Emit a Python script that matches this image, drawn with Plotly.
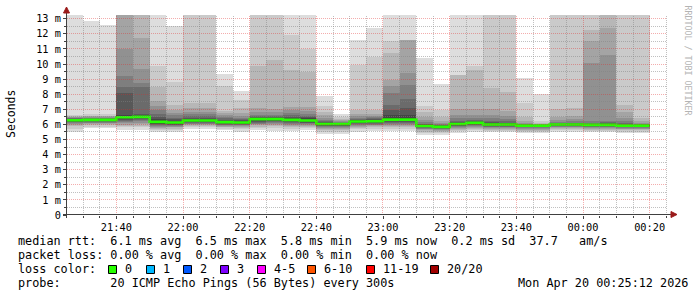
import math
import numpy as np
import pandas as pd
import plotly.graph_objects as go

# ---------------- data ----------------
# 35 five-minute bars, each bar ends at these times
bar_end = pd.date_range("2026-04-19 21:30", periods=35, freq="5min")

# sorted ping round-trip times (ms) per bar, p01 = fastest ... p20 = slowest
p20 = [14, 12.87, 12.6, 14, 14, 14, 12.53, 14, 14, 9.35, 8.22, 14, 14, 14, 14, 7.88, 6.72, 11.6, 12.42, 14, 14, 10.43, 8.69, 14, 14, 14, 14, 9.06, 8.02, 14, 14, 14, 14, 14, 14]
p19 = [6.62, 6.66, 6.66, 14, 14, 9.9, 8.84, 14, 14, 8.55, 7.65, 14, 14, 11.94, 11.0, 7.2, 6.5, 9.95, 10.5, 11.5, 11.62, 7.2, 6.96, 9.3, 9.84, 14, 14, 7.4, 6.25, 14, 14, 14, 14, 14, 14]
p18 = [6.56, 6.58, 6.58, 14, 14, 8.5, 7.29, 7.45, 7.45, 6.9, 7.06, 9.84, 10.28, 9.6, 9.5, 6.85, 6.38, 6.96, 6.96, 10.72, 11.6, 6.8, 6.5, 9.27, 9.6, 8.4, 8.18, 6.52, 6.1, 7.0, 7.1, 12.27, 14, 7.3, 6.4]
p17 = [6.52, 6.53, 6.53, 14, 11.75, 7.55, 6.96, 7.07, 7.07, 6.75, 6.75, 7.1, 7.0, 7.18, 7.15, 6.6, 6.28, 6.7, 6.72, 8.95, 11.58, 6.5, 6.25, 7.0, 7.0, 7.0, 6.9, 6.25, 6.04, 6.5, 6.55, 11.5, 12.38, 6.8, 6.2]
p16 = [6.48, 6.49, 6.49, 11.0, 9.7, 7.2, 6.75, 6.85, 6.85, 6.6, 6.55, 6.8, 6.8, 6.95, 6.9, 6.45, 6.2, 6.55, 6.58, 8.55, 9.4, 6.3, 6.1, 6.6, 6.65, 6.6, 6.55, 6.12, 6.0, 6.3, 6.33, 10.06, 10.6, 6.45, 6.1]
p15 = [6.44, 6.45, 6.45, 9.2, 8.77, 6.95, 6.6, 6.7, 6.7, 6.5, 6.42, 6.65, 6.65, 6.75, 6.72, 6.32, 6.15, 6.45, 6.48, 8.07, 8.6, 6.15, 6.02, 6.4, 6.45, 6.4, 6.38, 6.05, 5.98, 6.18, 6.2, 6.2, 6.22, 6.2, 6.04]
p14 = [6.41, 6.42, 6.42, 8.45, 8.5, 6.66, 6.45, 6.58, 6.58, 6.4, 6.35, 6.55, 6.55, 6.6, 6.58, 6.22, 6.11, 6.38, 6.4, 7.3, 7.7, 6.05, 5.97, 6.25, 6.32, 6.25, 6.22, 6.0, 5.96, 6.1, 6.12, 6.12, 6.13, 6.08, 6.0]
p13 = [6.38, 6.39, 6.39, 8.1, 6.68, 6.5, 6.35, 6.45, 6.45, 6.3, 6.28, 6.47, 6.48, 6.5, 6.48, 6.15, 6.08, 6.32, 6.33, 6.96, 7.1, 6.0, 5.93, 6.15, 6.22, 6.13, 6.12, 5.97, 5.95, 6.06, 6.07, 6.06, 6.07, 6.02, 5.98]
p12 = [6.34, 6.36, 6.36, 6.62, 6.6, 6.35, 6.25, 6.37, 6.37, 6.24, 6.22, 6.42, 6.42, 6.42, 6.4, 6.1, 6.06, 6.27, 6.28, 6.6, 6.65, 5.96, 5.9, 6.1, 6.17, 6.07, 6.07, 5.95, 5.94, 6.04, 6.04, 6.02, 6.03, 5.98, 5.96]
p11 = [6.31, 6.33, 6.33, 6.52, 6.54, 6.22, 6.18, 6.3, 6.3, 6.19, 6.17, 6.38, 6.38, 6.35, 6.32, 6.06, 6.04, 6.22, 6.24, 6.4, 6.4, 5.93, 5.87, 6.06, 6.13, 6.03, 6.03, 5.93, 5.93, 6.02, 6.02, 6.0, 6.0, 5.95, 5.94]
p10 = [6.26, 6.28, 6.28, 6.44, 6.46, 6.12, 6.08, 6.22, 6.22, 6.11, 6.09, 6.32, 6.32, 6.26, 6.22, 6.0, 6.0, 6.16, 6.18, 6.26, 6.26, 5.87, 5.81, 6.0, 6.07, 5.97, 5.97, 5.9, 5.9, 5.98, 5.98, 5.95, 5.95, 5.89, 5.89]
p09 = [6.22, 6.24, 6.24, 6.38, 6.4, 6.06, 6.03, 6.18, 6.18, 6.07, 6.05, 6.25, 6.26, 6.2, 6.17, 5.96, 5.96, 6.12, 6.13, 6.2, 6.2, 5.84, 5.78, 5.96, 6.03, 5.93, 5.93, 5.87, 5.87, 5.95, 5.95, 5.92, 5.92, 5.86, 5.86]
p08 = [6.18, 6.2, 6.2, 6.32, 6.33, 6.01, 5.98, 6.14, 6.14, 6.03, 6.01, 6.18, 6.2, 6.14, 6.12, 5.92, 5.92, 6.07, 6.08, 6.14, 6.14, 5.8, 5.75, 5.92, 5.99, 5.89, 5.89, 5.84, 5.84, 5.92, 5.92, 5.88, 5.88, 5.83, 5.83]
p07 = [6.14, 6.16, 6.16, 6.26, 6.27, 5.96, 5.94, 6.1, 6.1, 5.99, 5.97, 6.12, 6.14, 6.08, 6.07, 5.88, 5.88, 6.02, 6.03, 6.08, 6.08, 5.76, 5.71, 5.88, 5.95, 5.85, 5.85, 5.8, 5.8, 5.88, 5.88, 5.85, 5.85, 5.8, 5.8]
p06 = [6.1, 6.12, 6.12, 6.17, 6.2, 5.91, 5.9, 6.06, 6.06, 5.95, 5.93, 6.05, 6.08, 6.02, 6.02, 5.83, 5.84, 5.97, 5.98, 6.02, 6.02, 5.72, 5.67, 5.83, 5.9, 5.81, 5.81, 5.76, 5.76, 5.84, 5.84, 5.81, 5.81, 5.76, 5.76]
p05 = [6.05, 6.07, 6.07, 6.07, 6.1, 5.85, 5.85, 6.02, 6.02, 5.9, 5.88, 6.0, 6.02, 5.96, 5.97, 5.78, 5.78, 5.92, 5.93, 5.96, 5.96, 5.67, 5.62, 5.78, 5.85, 5.76, 5.76, 5.71, 5.71, 5.8, 5.8, 5.77, 5.77, 5.72, 5.72]
p04 = [5.98, 6.01, 6.01, 5.98, 6.0, 5.78, 5.8, 5.97, 5.97, 5.85, 5.83, 5.93, 5.95, 5.9, 5.92, 5.72, 5.72, 5.86, 5.87, 5.9, 5.9, 5.6, 5.56, 5.72, 5.79, 5.71, 5.71, 5.65, 5.65, 5.75, 5.75, 5.72, 5.72, 5.67, 5.67]
p03 = [5.88, 5.93, 5.94, 5.9, 5.9, 5.7, 5.72, 5.9, 5.9, 5.8, 5.77, 5.85, 5.87, 5.82, 5.85, 5.62, 5.62, 5.78, 5.8, 5.82, 5.82, 5.52, 5.5, 5.65, 5.72, 5.65, 5.65, 5.58, 5.58, 5.68, 5.68, 5.66, 5.66, 5.6, 5.6]
p02 = [5.7, 5.85, 5.86, 5.8, 5.8, 5.6, 5.65, 5.8, 5.82, 5.72, 5.68, 5.75, 5.75, 5.72, 5.77, 5.5, 5.5, 5.68, 5.7, 5.72, 5.72, 5.42, 5.42, 5.55, 5.62, 5.57, 5.57, 5.5, 5.5, 5.6, 5.6, 5.58, 5.58, 5.52, 5.52]
p01 = [5.48, 5.75, 5.78, 5.62, 5.6, 5.48, 5.53, 5.7, 5.72, 5.62, 5.5, 5.6, 5.58, 5.55, 5.62, 5.35, 5.35, 5.52, 5.55, 5.55, 5.55, 5.3, 5.32, 5.45, 5.5, 5.47, 5.47, 5.4, 5.4, 5.5, 5.5, 5.48, 5.48, 5.42, 5.42]

median = [6.28, 6.30, 6.30, 6.48, 6.50, 6.17, 6.13, 6.26, 6.26, 6.15, 6.13, 6.35, 6.35, 6.30, 6.26, 6.03, 6.03, 6.19, 6.21, 6.32, 6.32, 5.90, 5.84, 6.03, 6.10, 6.00, 6.00, 5.92, 5.92, 6.00, 6.00, 5.97, 5.97, 5.92, 5.92]

y_tickvals = [0, 1, 2, 3, 4, 5, 6, 7, 8, 9, 10, 11, 12, 13]
y_ticktext = ["0", "1 m", "2 m", "3 m", "4 m", "5 m", "6 m", "7 m", "8 m", "9 m", "10 m", "11 m", "12 m", "13 m"]

line_rtt = "median rtt:  6.1 ms avg  6.5 ms max  5.8 ms min  5.9 ms now  0.2 ms sd  37.7   am/s"
line_loss = "packet loss: 0.00 % avg  0.00 % max  0.00 % min  0.00 % now"
loss_labels = ["0", "1", "2", "3", "4-5", "6-10", "11-19", "20/20"]
loss_colors = ["#26ff00", "#00b8ff", "#0059ff", "#7e00ff", "#ff00ff", "#ff5500", "#ff0000", "#a10000"]
line_probe = "probe:       20 ICMP Echo Pings (56 Bytes) every 300s"
date_text = "Mon Apr 20 00:25:12 2026"

# ---------------- styling ----------------
W, H = 697, 297
L, R, T, B = 67, 30, 15, 82
PW, PH = W - L - R, H - T - B
MONO = "DejaVu Sans Mono"
smoke_gray = ["#dddddd", "#cacaca", "#b7b7b7", "#a4a4a4", "#919191",
              "#7e7e7e", "#6b6b6b", "#585858", "#454545", "#323232"]
x_start = pd.Timestamp("2026-04-19 21:25:12")
x_stop = pd.Timestamp("2026-04-20 00:25:12")
span_s = (x_stop - x_start).total_seconds()
y_top = 13.25


def fx(px):
    return (px - L) / PW


def fy(py):
    return (H - B - py) / PH


def snap(p):
    return math.floor(p) + 0.5


def nb(s):
    return s.replace(" ", "\u00a0")


pings = [p01, p02, p03, p04, p05, p06, p07, p08, p09, p10,
         p11, p12, p13, p14, p15, p16, p17, p18, p19, p20]

fig = go.Figure()
centers = bar_end - pd.Timedelta(seconds=150)
for j in range(10):
    lo = np.array(pings[j], dtype=float)
    hi = np.array(pings[19 - j], dtype=float)
    fig.add_trace(go.Bar(x=centers, y=hi - lo, base=lo, width=300000,
                         marker=dict(color=smoke_gray[j], line=dict(width=0)),
                         opacity=1, hoverinfo="skip", showlegend=False))

step_x = list(bar_end - pd.Timedelta(minutes=5)) + [bar_end[-1]]
step_y = list(median) + [median[-1]]
fig.add_trace(go.Scatter(x=step_x, y=step_y, mode="lines",
                         line=dict(color="#26ff00", width=2.6, shape="hv"),
                         hoverinfo="skip", showlegend=False))

shapes = []
minor_c = "rgba(130,130,130,0.5)"
major_c = "rgba(225,40,40,0.38)"
dash = "1px,1px"
# horizontal grid (snapped to pixel centres)
for k in range(1, 27):
    v = k * 0.5
    if v > y_top:
        break
    py = snap(H - B - v * PH / y_top)
    col = major_c if k % 2 == 0 else minor_c
    shapes.append(dict(type="line", xref="paper", yref="paper", x0=0, x1=1, y0=fy(py), y1=fy(py),
                       line=dict(color=col, width=1, dash=dash), layer="above"))
# vertical grid
t = pd.Timestamp("2026-04-19 21:30")
while t <= x_stop:
    major = (t.minute % 20 == 0)
    px = snap(L + (t - x_start).total_seconds() / span_s * PW)
    shapes.append(dict(type="line", xref="paper", yref="paper", x0=fx(px), x1=fx(px), y0=0, y1=1,
                       line=dict(color=major_c if major else minor_c, width=1, dash=dash),
                       layer="above"))
    t += pd.Timedelta(minutes=5)

axis_c = "#404040"
arrow_c = "#9a1a1a"
shapes.append(dict(type="line", xref="paper", yref="paper", x0=fx(63), x1=fx(672), y0=fy(214.5), y1=fy(214.5),
                   line=dict(color=axis_c, width=1), layer="above"))
shapes.append(dict(type="line", xref="paper", yref="paper", x0=fx(66.5), x1=fx(66.5), y0=fy(218), y1=fy(10),
                   line=dict(color=axis_c, width=1), layer="above"))
shapes.append(dict(type="path", xref="paper", yref="paper",
                   path=f"M {fx(63.5)},{fy(13)} L {fx(69.5)},{fy(13)} L {fx(66.5)},{fy(7)} Z",
                   fillcolor=arrow_c, line=dict(color=arrow_c, width=1), layer="above"))
shapes.append(dict(type="path", xref="paper", yref="paper",
                   path=f"M {fx(671)},{fy(211.5)} L {fx(671)},{fy(217.5)} L {fx(677)},{fy(214.5)} Z",
                   fillcolor=arrow_c, line=dict(color=arrow_c, width=1), layer="above"))

annotations = []


def txt(s, x, y, size=11.8, anchor="left", color="black", angle=0):
    annotations.append(dict(text=nb(s), x=fx(x), y=fy(y), xref="paper", yref="paper",
                            xanchor=anchor, yanchor="middle", showarrow=False,
                            textangle=angle,
                            font=dict(family=MONO, size=size, color=color)))


txt(line_rtt, 16, 241)
txt(line_loss, 16, 255)
txt("loss color:", 16, 269)
sq_left = [108, 146, 183, 220, 257, 307, 366, 430]
for lab, col, sx in zip(loss_labels, loss_colors, sq_left):
    shapes.append(dict(type="rect", xref="paper", yref="paper",
                       x0=fx(sx + 0.5), x1=fx(sx + 8.5), y0=fy(273.5), y1=fy(265.5),
                       fillcolor=col, line=dict(color="black", width=1), layer="above"))
    txt(lab, sx + 14.5, 269)
txt(line_probe, 16, 283)
txt(date_text, 689.5, 283, anchor="right")
txt("Seconds", 11, 114, size=11.5, anchor="center", angle=-90)
annotations.append(dict(text=nb("RRDTOOL / TOBI OETIKER"), x=fx(687.5), y=fy(60),
                        xref="paper", yref="paper", xanchor="center", yanchor="middle",
                        showarrow=False, textangle=90,
                        font=dict(family=MONO, size=8.3, color="#b4b4b4")))

fig.update_layout(
    width=W, height=H, autosize=False,
    margin=dict(l=L, r=R, t=T, b=B, pad=0),
    paper_bgcolor="white", plot_bgcolor="white",
    barmode="overlay", bargap=0, showlegend=False,
    font=dict(family=MONO, size=10.3, color="black"),
    shapes=shapes, annotations=annotations,
    xaxis=dict(type="date", range=[x_start, x_stop], tickformat="%H:%M",
               tick0="2026-04-19 21:40", dtick=1200000,
               ticks="outside", ticklen=3, tickcolor=axis_c, tickwidth=1,
               showgrid=False, zeroline=False, showline=False,
               tickfont=dict(family=MONO, size=10.3, color="black"),
               minor=dict(dtick=300000, tick0="2026-04-19 21:30", ticks="outside",
                          ticklen=2, tickcolor=axis_c, showgrid=False),
               fixedrange=True),
    yaxis=dict(range=[0, y_top], tickmode="array", tickvals=y_tickvals, ticktext=y_ticktext,
               ticks="outside", ticklen=3, tickcolor=axis_c, tickwidth=1,
               showgrid=False, zeroline=False, showline=False,
               tickfont=dict(family=MONO, size=10.3, color="black"),
               minor=dict(tickmode="linear", tick0=0, dtick=0.5, ticks="outside",
                          ticklen=2, tickcolor=axis_c, showgrid=False),
               fixedrange=True),
)

fig.write_html("out.html", config={"displayModeBar": False, "staticPlot": True})
